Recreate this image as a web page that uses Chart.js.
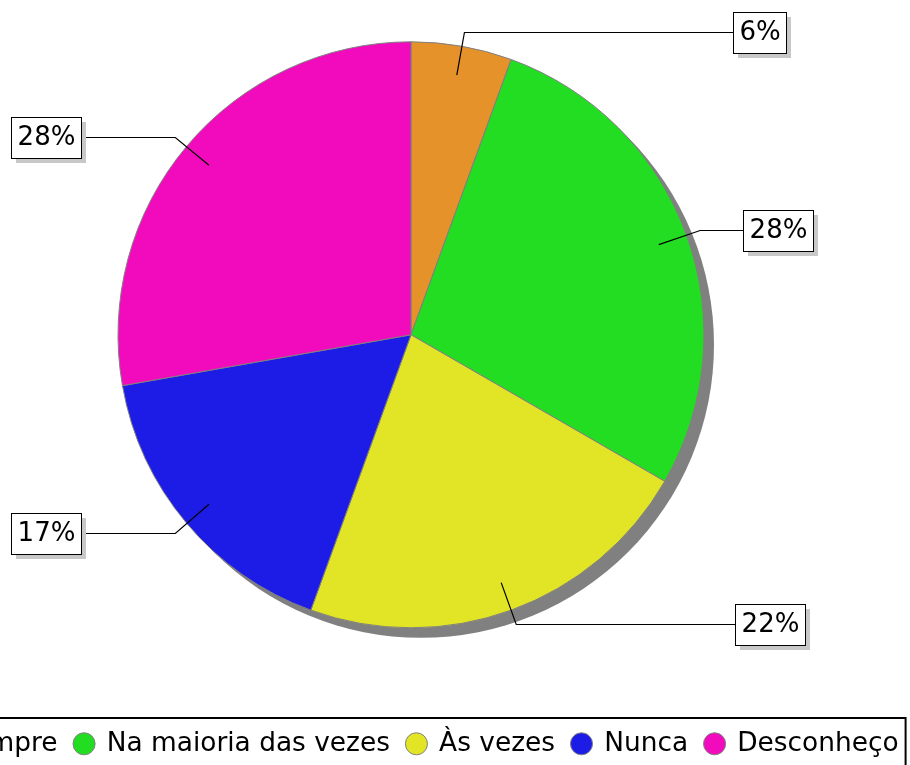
<!DOCTYPE html>
<html>
<head>
<meta charset="utf-8">
<script src="https://cdn.jsdelivr.net/npm/chart.js@4"></script>
<style>
  html, body { margin: 0; padding: 0; background: #fff; overflow: hidden; width: 910px; height: 765px; }
  #wrap { position: relative; width: 910px; height: 765px; overflow: hidden; }
  /* canvas is wider/taller than the page: legend row is centred on the pie and overflows left */
  #pie { position: absolute; left: -139px; top: -44px; }
</style>
</head>
<body>
<div id="wrap"><canvas id="pie" width="1100" height="811"></canvas></div>
<script>
var LABELS = ['Sempre', 'Na maioria das vezes', 'Às vezes', 'Nunca', 'Desconheço'];
var VALUES = [1, 5, 4, 3, 5];
var COLORS = ['#e5922a', '#22dd22', '#e2e526', '#1c1ce6', '#f20bbd'];

var FONT = "'DejaVu Sans', sans-serif";

/* --------------------------------------------------
   dark shadow disc behind the pie
   -------------------------------------------------- */
var pieShadow = {
  id: 'pieShadow',
  beforeDatasetsDraw: function (chart) {
    var arc = chart.getDatasetMeta(0).data[0];
    if (!arc) return;
    var p = arc.getProps(['x', 'y', 'outerRadius'], true);
    var ctx = chart.ctx;
    ctx.save();
    ctx.fillStyle = '#808080';
    ctx.beginPath();
    ctx.arc(p.x + 10, p.y + 10, p.outerRadius, 0, Math.PI * 2);
    ctx.fill();
    ctx.restore();
  }
};

/* --------------------------------------------------
   percent labels with elbow link lines and boxed text
   -------------------------------------------------- */
var pieLabels = {
  id: 'pieLabels',
  afterDatasetsDraw: function (chart) {
    var ctx = chart.ctx;
    var total = VALUES.reduce(function (a, b) { return a + b; }, 0);
    ctx.save();
    ctx.font = '26px ' + FONT;
    chart.getDatasetMeta(0).data.forEach(function (arc, i) {
      var p = arc.getProps(['x', 'y', 'startAngle', 'endAngle', 'outerRadius'], true);
      var a = (p.startAngle + p.endAngle) / 2;
      var r = p.outerRadius;
      var c = Math.cos(a), s = Math.sin(a);
      var right = c >= 0;
      var x1 = p.x + 0.9 * r * c, y1 = p.y + 0.9 * r * s;
      var x2 = p.x + 1.05 * r * c, y2 = Math.round(p.y + 1.05 * r * s) + 0.5;
      var ax = right ? p.x + 1.05 * r : p.x - 1.05 * r;
      var edge = r * (1.092 + 0.044 * Math.abs(c));

      var text = Math.round(VALUES[i] / total * 100) + '%';
      var w = Math.round(ctx.measureText(text).width + 12);
      var h = 41;
      var bx = right ? Math.round(p.x + edge) : Math.round(p.x - edge) - w;
      var by = Math.round(y2 - h / 2);

      // link line
      ctx.strokeStyle = '#000';
      ctx.lineWidth = 1.2;
      ctx.beginPath();
      ctx.moveTo(x1, y1);
      ctx.lineTo(x2, y2);
      ctx.lineTo(ax, y2);
      ctx.lineTo(right ? bx : bx + w, y2);
      ctx.stroke();

      // box shadow, box, text
      ctx.lineWidth = 1;
      ctx.fillStyle = '#c8c8c8';
      ctx.fillRect(bx + 5, by + 5, w, h);
      ctx.fillStyle = '#fff';
      ctx.fillRect(bx, by, w, h);
      ctx.strokeRect(bx + 0.5, by + 0.5, w, h);
      ctx.fillStyle = '#000';
      ctx.textAlign = 'center';
      ctx.textBaseline = 'middle';
      ctx.fillText(text, bx + w / 2 + 0.5, by + h / 2 + 1);
    });
    ctx.restore();
  }
};

/* --------------------------------------------------
   frame round the legend row
   -------------------------------------------------- */
var legendFrame = {
  id: 'legendFrame',
  afterDraw: function (chart) {
    var boxes = chart.legend && chart.legend.legendHitBoxes;
    if (!boxes || !boxes.length) return;
    var first = boxes[0], last = boxes[boxes.length - 1];
    var cy = first.top + first.height / 2;
    var left = first.left - 10;
    var rightX = last.left + last.width + 7;
    var top = Math.round(cy) - 26;
    var ctx = chart.ctx;
    ctx.save();
    ctx.strokeStyle = '#000';
    ctx.lineWidth = 2;
    ctx.strokeRect(left, top, rightX - left, chart.height - top + 20);
    ctx.restore();
  }
};

new Chart(document.getElementById('pie'), {
  type: 'pie',
  data: {
    labels: LABELS,
    datasets: [{
      data:            VALUES,
      backgroundColor: COLORS,
      borderColor:     '#808080',
      borderWidth:     1,
      radius:          293,
    }],
  },
  options: {
    responsive: false,
    animation:  false,
    layout: { padding: 0 },
    plugins: {
      legend: {
        position: 'bottom',
        labels: {
          usePointStyle: true,
          pointStyle:    'circle',
          boxWidth:      19,
          boxHeight:     15.6,
          padding:       17,
          color:         '#000',
          font:          { family: FONT, size: 26.4 },
        },
      },
      tooltip: { enabled: false },
    },
  },
  plugins: [pieShadow, pieLabels, legendFrame],
});
</script>
</body>
</html>
